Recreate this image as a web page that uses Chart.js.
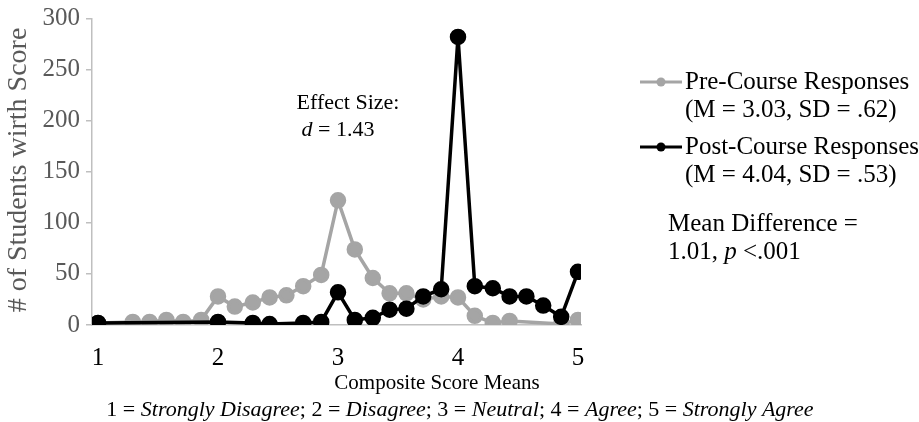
<!DOCTYPE html>
<html>
<head>
<meta charset="utf-8">
<script src="https://cdn.jsdelivr.net/npm/chart.js@4.4.1/dist/chart.umd.min.js"></script>
<style>
  html, body { margin: 0; padding: 0; background: #fff; }
  #wrap { width: 919px; height: 422px; }
</style>
</head>
<body>
<div id="wrap"><canvas id="myChart" width="919" height="422"></canvas></div>
<script>
// Composite score means (x positions of the points)
const scoreMeans = [1, 1.14, 1.29, 1.43, 1.57, 1.71, 1.86, 2, 2.14, 2.29, 2.43, 2.57, 2.71, 2.86,
  3, 3.14, 3.29, 3.43, 3.57, 3.71, 3.86, 4, 4.14, 4.29, 4.43, 4.57, 4.71, 4.86, 5];

// Number of students at each mean (null = no point)
const preCounts = [2, null, 3, 3, 5, 3, 5, 28, 18, 22, 27, 29, 38, 49,
  122, 74, 46, 31, 31, 25, 28, 27, 9, 2, 4, null, null, 1, 5];
const postCounts = [2, null, null, null, null, null, null, 3, null, 2, 1, null, 2, 3,
  32, 5, 7, 15, 16, 28, 35, 282, 38, 36, 28, 28, 19, 8, 52];

const xTicks = [1, 2, 3, 4, 5];
const yTicks = [0, 50, 100, 150, 200, 250, 300];

const seriesNames = ['Pre-Course Responses', 'Post-Course Responses'];
const seriesStats = ['(M = 3.03, SD = .62)', '(M = 4.04, SD = .53)'];

const GREY = '#a5a5a5';
const BLACK = '#000000';
const AXIS = '#bfbfbf';
const LABEL = '#595959';
const SERIF = '"Liberation Serif", "Times New Roman", serif';

function toPoints(values) {
  const pts = [];
  values.forEach((v, i) => {
    if (v !== null) pts.push({ x: scoreMeans[i], y: v });
  });
  return pts;
}

// draw a line of text made of [text, italic] parts
function drawParts(ctx, parts, x, y, size, align) {
  let total = 0;
  parts.forEach(p => {
    ctx.font = (p[1] ? 'italic ' : '') + size + 'px ' + SERIF;
    total += ctx.measureText(p[0]).width;
  });
  let cx = align === 'center' ? x - total / 2 : x;
  ctx.textAlign = 'left';
  parts.forEach(p => {
    ctx.font = (p[1] ? 'italic ' : '') + size + 'px ' + SERIF;
    ctx.fillText(p[0], cx, y);
    cx += ctx.measureText(p[0]).width;
  });
}

const textPlugin = {
  id: 'texts',
  beforeDraw(chart) {
    const c = chart.ctx;
    c.save();
    c.fillStyle = '#fff';
    c.fillRect(0, 0, chart.width, chart.height);
    c.restore();
  },
  afterDraw(chart) {
    const c = chart.ctx;
    c.save();
    c.textBaseline = 'middle';

    // y title
    c.save();
    c.translate(19, 170);
    c.rotate(-Math.PI / 2);
    c.fillStyle = LABEL;
    c.font = '28px ' + SERIF;
    c.textAlign = 'center';
    c.fillText('# of Students wirth Score', 0, 0);
    c.restore();

    // x title and scale note
    c.fillStyle = BLACK;
    c.font = '21px ' + SERIF;
    c.textAlign = 'center';
    c.fillText('Composite Score Means', 437, 383);
    drawParts(c, [['1 = ', false], ['Strongly Disagree', true], ['; 2 = ', false], ['Disagree', true],
      ['; 3 = ', false], ['Neutral', true], ['; 4 = ', false], ['Agree', true],
      ['; 5 = ', false], ['Strongly Agree', true]], 460, 410, 22, 'center');

    // effect size
    drawParts(c, [['Effect Size:', false]], 348, 103, 22, 'center');
    drawParts(c, [['d', true], [' = 1.43', false]], 338, 130, 22, 'center');

    // legend
    const colors = [GREY, BLACK];
    const rows = [82, 147];
    rows.forEach((y, i) => {
      c.strokeStyle = colors[i];
      c.lineWidth = 3;
      c.beginPath();
      c.moveTo(640, y);
      c.lineTo(682, y);
      c.stroke();
      c.fillStyle = colors[i];
      c.beginPath();
      c.arc(661, y, 4.5, 0, Math.PI * 2);
      c.fill();
      c.fillStyle = BLACK;
      drawParts(c, [[seriesNames[i], false]], 685, y, 25, 'left');
      drawParts(c, [[seriesStats[i], false]], 685, y + 28, 25, 'left');
    });

    // mean difference
    drawParts(c, [['Mean Difference =', false]], 668, 224, 25, 'left');
    drawParts(c, [['1.01, ', false], ['p', true], [' <.001', false]], 668, 252, 25, 'left');
    c.restore();
  }
};

const ctx = document.getElementById('myChart').getContext('2d');

new Chart(ctx, {
  type: 'line',
  data: {
    datasets: [
      {
        label: seriesNames[0],
        data: toPoints(preCounts),
        borderColor: GREY,
        backgroundColor: GREY,
        borderWidth: 3.5,
        pointRadius: 6.5,
        pointHoverRadius: 6.5,
        tension: 0,
        order: 2
      },
      {
        label: seriesNames[1],
        data: toPoints(postCounts),
        borderColor: BLACK,
        backgroundColor: BLACK,
        borderWidth: 3.5,
        pointRadius: 6.5,
        pointHoverRadius: 6.5,
        tension: 0,
        order: 1
      }
    ]
  },
  options: {
    responsive: false,
    animation: false,
    devicePixelRatio: 1,
    layout: { padding: { left: 0, top: 17, right: 338, bottom: 0 } },
    plugins: {
      legend: { display: false },
      tooltip: { enabled: false }
    },
    scales: {
      x: {
        type: 'linear',
        min: 0.95,
        max: 5.025,
        afterFit(scale) { scale.height = 97; },
        afterBuildTicks(scale) { scale.ticks = xTicks.map(v => ({ value: v })); },
        grid: { display: false },
        border: { display: true, color: AXIS, width: 1.5 },
        ticks: {
          color: BLACK,
          padding: 10,
          font: { family: SERIF, size: 25 },
          callback: v => String(v)
        }
      },
      y: {
        min: 0,
        max: 300,
        afterFit(scale) { scale.width = 92; },
        afterBuildTicks(scale) { scale.ticks = yTicks.map(v => ({ value: v })); },
        grid: { drawOnChartArea: false, drawTicks: true, tickLength: 6, color: AXIS, lineWidth: 1.5 },
        border: { display: true, color: AXIS, width: 1.5 },
        ticks: {
          color: LABEL,
          padding: 6,
          font: { family: SERIF, size: 25, lineHeight: 1 }
        }
      }
    }
  },
  plugins: [textPlugin]
});
</script>
</body>
</html>
